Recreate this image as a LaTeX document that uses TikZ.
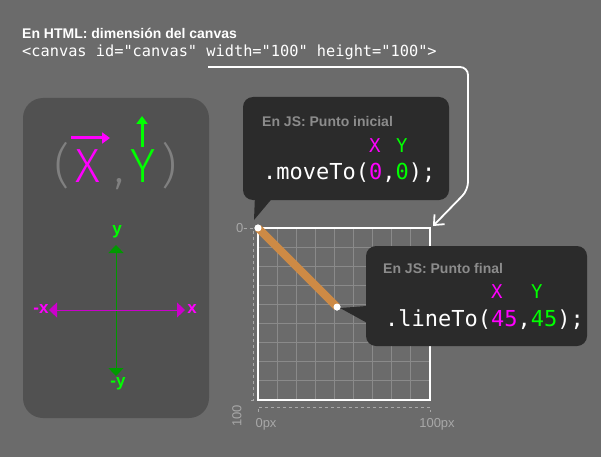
\documentclass[tikz,border=0pt]{standalone}
\usepackage{fontspec}
\setmainfont{Liberation Sans}
\newfontfamily\codefont{DejaVu Sans Mono}
\newfontfamily\thinfont{Fira Sans Light}
\usetikzlibrary{arrows.meta}
\definecolor{bgc}{HTML}{6B6B6B}
\definecolor{panelc}{HTML}{515151}
\definecolor{bubblec}{HTML}{2B2B2B}
\definecolor{mag}{HTML}{FF00FF}
\definecolor{grn}{HTML}{00FF00}
\definecolor{dgrn}{HTML}{009900}
\definecolor{dmag}{HTML}{CC00CC}
\definecolor{gridc}{HTML}{8A8A8A}
\definecolor{lblc}{HTML}{A8A8A8}
\definecolor{linec}{HTML}{CD8A45}
\begin{document}
\begin{tikzpicture}[x=1pt,y=-1pt,
	lbl/.style={font=\bfseries\fontsize{14}{14}\selectfont, text=gray!90, inner sep=0pt, anchor=west},
	code/.style={font=\codefont\fontsize{22}{22}\selectfont, text=white, inner sep=0pt, anchor=west},
	small/.style={font=\fontsize{13}{13}\selectfont, text=lblc, inner sep=0pt},
	axis/.style={font=\bfseries\fontsize{17}{17}\selectfont, inner sep=0pt},
	bubble/.style={fill=bubblec, rounded corners=10pt},
	dot/.style={circle, fill=white, inner sep=0pt, minimum size=7pt},
	]
	\fill[bgc] (0,0) rectangle (601,457);
	% canvas definition
	\node[inner sep=0pt, anchor=west, text=white, font=\bfseries\fontsize{14}{14}\selectfont] (title) at (22,33) {En HTML: dimensión del canvas};
	\node[inner sep=0pt, anchor=west, text=white, font=\codefont\fontsize{15.3}{16}\selectfont] (html) at (22,52) {<canvas id="canvas" width="100" height="100">};
	\coordinate (arrstart) at (208,67);
	\coordinate (arrend) at (433,226);
	\draw[white, line width=1.8pt, -{Straight Barb[length=8pt,width=14pt]}, rounded corners=8pt]
		(arrstart) -- (468,67) -- (468,190) -- (arrend);
	% left panel
	\fill[panelc, rounded corners=20pt] (23,98) rectangle (209,418);
	\node[font=\thinfont\fontsize{48}{48}\selectfont, text=gray, inner sep=0pt] (paren) at (116,166) {(\hspace{44pt},\hspace{38pt})};
	\node[font=\thinfont\fontsize{48}{48}\selectfont, text=mag, inner sep=0pt] (bigx) at (88,166) {X};
	\node[font=\thinfont\fontsize{48}{48}\selectfont, text=grn, inner sep=0pt] (bigy) at (143,166) {Y};
	\draw[mag, line width=3pt, -{Triangle[length=8pt,width=11pt]}] (71,138) -- (110,138);
	\draw[grn, line width=3pt, -{Triangle[length=8pt,width=11pt]}] (142,147) -- (142,116);
	\node[axis, text=grn] (ypos) at (117,232) {y};
	\node[axis, text=grn] (yneg) at (118,384) {-y};
	\node[axis, text=mag] (xneg) at (41,309) {-x};
	\node[axis, text=mag] (xpos) at (192,309) {x};
	\draw[dgrn, line width=1pt, {Triangle[length=8pt,width=15pt]}-{Triangle[length=8pt,width=15pt]}] (116,245) -- (116,376);
	\draw[dmag, line width=1pt, {Triangle[length=8pt,width=15pt]}-{Triangle[length=8pt,width=15pt]}] (49,310) -- (185,310);
	% canvas grid
	\foreach \i in {1,...,8}{
		\draw[gridc, line width=1pt] (258+19.1*\i,228) -- (258+19.1*\i,400);
		\draw[gridc, line width=1pt] (258,228+19.1*\i) -- (430,228+19.1*\i);
	}
	\draw[white, line width=1.8pt] (258,228) rectangle (430,400);
	\draw[lblc, dashed, line width=1pt] (250,228) -- (253,228) -- (253,400) -- (250,400);
	\draw[lblc, dashed, line width=1pt] (258,412) -- (258,407) -- (430,407) -- (430,412);
	\node[small, anchor=east] (zero) at (248,228) {0-};
	\node[small, rotate=90, anchor=east] (hundred) at (237,405) {100};
	\node[small] (px0) at (266,424) {0px};
	\node[small] (px100) at (437,424) {100px};
	\node[dot] (p0) at (258,228) {};
	\node[dot] (p1) at (337,307) {};
	\draw[linec, line width=8pt] (p0.center) -- (p1.center);
	\node[dot] at (258,228) {};
	\node[dot] at (337,307) {};
	% bubbles
	\fill[bubblec] (254,220) -- (255,195) -- (275,195) -- cycle;
	\fill[bubble] (243,97) rectangle (449,200);
	\node[lbl] (lbl1) at (262,121) {En JS: Punto inicial};
	\node[code, font=\codefont\fontsize{19}{19}\selectfont, text=mag] (x1) at (369,146) {X};
	\node[code, font=\codefont\fontsize{19}{19}\selectfont, text=grn] (y1) at (396,146) {Y};
	\node[code] (move) at (263,173) {.moveTo(\textcolor{mag}{0},\textcolor{grn}{0});};
	\fill[bubblec] (340,308) -- (380,305) -- (380,330) -- cycle;
	\fill[bubble] (366,246) rectangle (587,346);
	\node[lbl] (lbl2) at (383,268) {En JS: Punto final};
	\node[code, font=\codefont\fontsize{19}{19}\selectfont, text=mag] (x2) at (491,292) {X};
	\node[code, font=\codefont\fontsize{19}{19}\selectfont, text=grn] (y2) at (531,292) {Y};
	\node[code] (line) at (385,320) {.lineTo(\textcolor{mag}{45},\textcolor{grn}{45});};
\end{tikzpicture}
\end{document}
